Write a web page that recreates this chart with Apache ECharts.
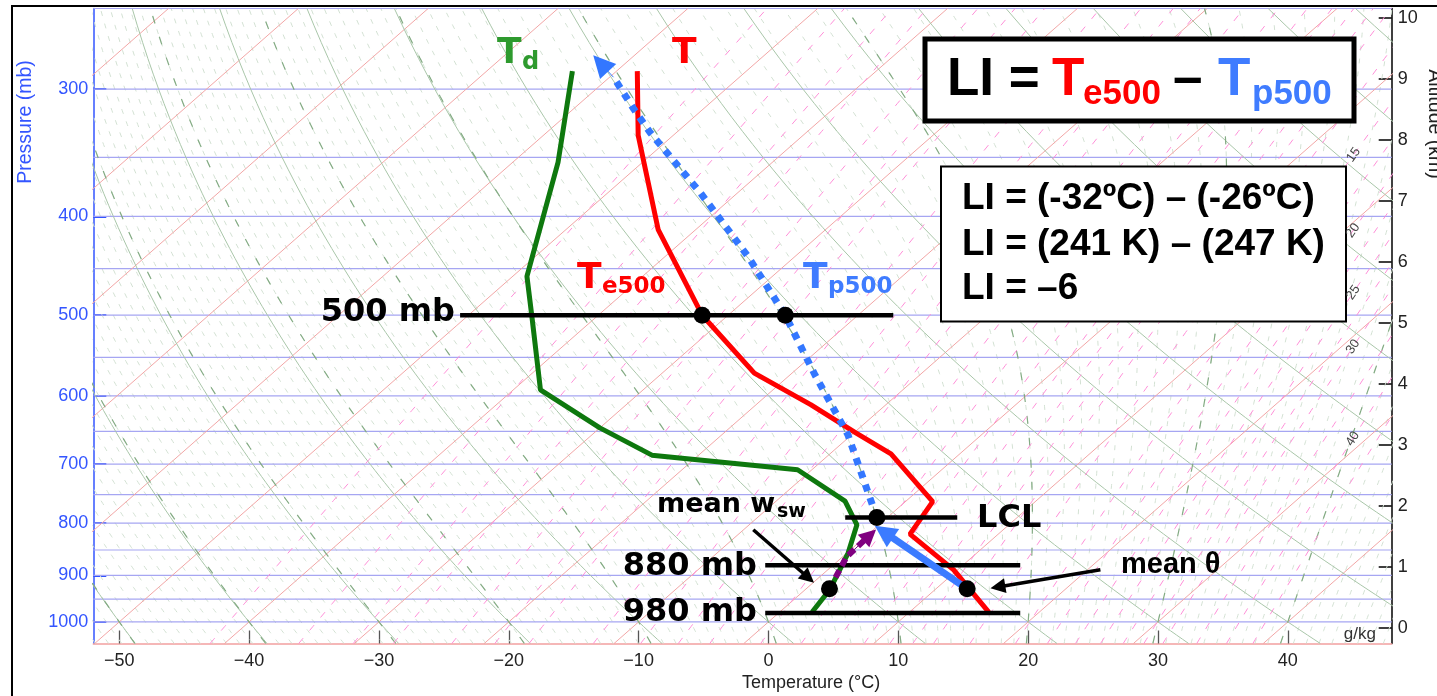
<!DOCTYPE html>
<html><head><meta charset="utf-8">
<script src="https://cdn.jsdelivr.net/npm/echarts@6/dist/echarts.min.js"></script>
<style>html,body{margin:0;padding:0;background:#fff;overflow:hidden}#c{width:1437px;height:696px}</style>
</head><body><div id="c"></div>
<script>
// ---------- axis ticks ----------
const tempTicks = [-50,-40,-30,-20,-10,0,10,20,30,40];
const pressureTicks = [1000,900,800,700,600,500,400,300];
const altitudeTicks = [0,1,2,3,4,5,6,7,8,9,10];
// ---------- thermodynamic diagram background ----------
const isobarLevels = [250,300,350,400,450,500,550,600,650,700,750,800,850,900,950,1000];
const isothermValues = [-100,-90,-80,-70,-60,-50,-40,-30,-20,-10,0,10,20,30,40];
const dryAdiabatTheta = [-80,-70,-60,-50,-40,-30,-20,-10,0,10,20,30,40,50,60,70,80,90,100,110,120,130];
const moistMajorTheta = [-50,-40,-30,-20,-10,0,10,20,30,40];
const moistMinorRange = [-60, 50];
const mixingRatios = [0.1,0.2,0.3,0.4,0.6,0.8,1,1.5,2,2.5,3,4,5,6,7,8,9,10,12,15,17.5,20,22.5,25,27.5,30,35,40,45];
const mixingRatioLabels = [15,20,25,30,40];
// ---------- sounding (T in °C, p in mb) ----------
const envTemp = [[-58.4,288],[-52.7,333],[-42.9,412],[-32,500],[-22.9,570],[-15.8,612],[-9.9,652],[-5.3,684],[2.1,762],[3.2,820],[9.7,889],[16.1,978]];
const envDew = [[-63.4,288],[-56.5,354],[-48.9,458],[-44.7,505],[-37.9,592],[-30.0,645],[-23.6,686],[-11.1,709],[-4.7,761],[-1.7,803],[0.1,856],[1.9,930],[2.5,978]];
const parcelPath = [[-0.8,790],[-10.3,655],[-18.1,572],[-25.6,500],[-33.6,438],[-42.9,379],[-52.0,331],[-55.3,314],[-59.7,292]];
const parcelArrow = [[-59.7,292],[-61.9,283]];
const meanThetaArrow = [[12.4,928],[1.0,816]];
const meanWPath = [[1.8,928],[0.3,863],[0.2,822]];
const meanWArrowHead = [[0.3,863],[0.2,822]];
const keyPoints = [[-32,500],[-25.6,500],[-0.8,790],[1.8,928],[12.4,928]];
const pointerW = [[-9.25,812],[-0.8,905]];
const pointerTheta = [[21.0,889],[14.6,924]];
// level lines: [pressure, left x-axis value, right x-axis value]
const levelLines = [[500,-23.75,9.61],[790,5.91,14.54],[880,-0.25,19.39],[980,-0.25,19.39]];

// ---------- skew-T transform ----------
const SKEW = 38.8, P_BOT = 1050, P_TOP = 250;
const L = p => Math.log(1000/p);
const xy = (T,p) => [T + SKEW*L(p), L(p)];
const GAP = ['-','-'];
function join(paths){const out=[];paths.forEach((pt,i)=>{if(i)out.push(GAP);pt.forEach(q=>out.push(q));});return out;}
function pRange(step){const a=[];for(let p=P_BOT;p>=P_TOP;p-=step)a.push(p);return a;}

const isobars = join(isobarLevels.map(p=>[[-52,L(p)],[48,L(p)]]));
const isotherms = join(isothermValues.map(T=>[xy(T,P_BOT),xy(T,P_TOP)]));
const dryLines = join(dryAdiabatTheta.map(th=>pRange(10).map(p=>xy((th+273.15)*Math.pow(p/1000,0.2857)-273.15,p))));
function dTdp(T,p){const Tc=T-273.15;const es=6.112*Math.exp(17.67*Tc/(Tc+243.5));const rs=0.622*es/(p-es);
  return (287.04*T+2.501e6*rs)/(p*(1005.7+2.501e6*2.501e6*rs*0.622/(287.04*T*T)));}
function moistPath(tc){
  const integ=(h,pend)=>{const r=[];let T=tc+273.15,p=1000;while((h<0&&p>pend)||(h>0&&p<pend)){
    const k1=dTdp(T,p),k2=dTdp(T+h/2*k1,p+h/2),k3=dTdp(T+h/2*k2,p+h/2),k4=dTdp(T+h*k3,p+h);
    T+=h/6*(k1+2*k2+2*k3+k4);p+=h;r.push([T,p]);}return r;};
  const up=integ(-5,P_TOP), down=integ(5,P_BOT).reverse();
  return down.concat([[tc+273.15,1000]],up).map(q=>xy(q[0]-273.15,q[1]));
}
const moistMajor = join(moistMajorTheta.map(moistPath));
const minorList=[];for(let t=moistMinorRange[0];t<=moistMinorRange[1];t++)minorList.push(t);
const moistMinor = join(minorList.map(moistPath));
function mixT(w,p){const e=w*p/(622+w);const l=Math.log(e/6.112);return 243.5*l/(17.67-l);}
const mixLines = join(mixingRatios.map(w=>pRange(10).map(p=>xy(mixT(w,p),p))));

const bg = (data,color,width,type,z)=>({type:'line',data,symbol:'none',silent:true,animation:false,z,
  lineStyle:{color,width,type:type||'solid'},connectNulls:false});
const FONT='Liberation Sans';
const chart = echarts.init(document.getElementById('c'));
const option = {
  animation:false,
  grid:{left:93.3,right:45.3,top:8.5,bottom:52.5,containLabel:false,outerBoundsMode:'none'},
  xAxis:{type:'value',min:-52,max:48,
    axisLine:{show:true,onZero:false,lineStyle:{color:'#f2a0a0',width:1.5}},
    axisTick:{show:true,inside:true,length:13,customValues:tempTicks,lineStyle:{color:'#555',width:1.3}},
    axisLabel:{customValues:tempTicks,formatter:v=>(v<0?'\u2212':'')+Math.abs(v),fontSize:18,color:'#222',margin:9,fontFamily:FONT},
    splitLine:{show:false}},
  yAxis:[
    {type:'value',min:L(P_BOT),max:L(P_TOP),position:'left',
     axisLine:{show:true,onZero:false,lineStyle:{color:'#3355ff',width:1.5}},
     axisTick:{show:true,inside:true,length:13,customValues:pressureTicks.map(L),lineStyle:{color:'#3355ff',width:2}},
     axisLabel:{customValues:pressureTicks.map(L),formatter:v=>String(Math.round(1000*Math.exp(-v))),fontSize:18,color:'#3355ff',margin:5,fontFamily:FONT},
     splitLine:{show:false}},
    {type:'value',min:-0.259,max:10.151,position:'right',
     axisLine:{show:true,onZero:false,lineStyle:{color:'#000',width:1.5}},
     axisTick:{show:true,inside:true,length:13,customValues:altitudeTicks,lineStyle:{color:'#000',width:1.5}},
     axisLabel:{customValues:altitudeTicks,fontSize:18,color:'#222',margin:6,fontFamily:FONT},
     splitLine:{show:false}}
  ],
  series:[
    bg(moistMinor,'#d3e1d3',1,[5,8],1),
    bg(isobars,'#a6a6f2',1.2,'solid',1),
    bg(isotherms,'#f2a6a6',1,'solid',1),
    bg(dryLines,'#a9c6a9',1,'solid',1),
    bg(moistMajor,'#83ab83',1.2,[8,14],1),
    bg(mixLines,'#ff8fd8',1,[7,10],1),
    {type:'line',data:join(levelLines.map(r=>[[r[1],L(r[0])],[r[2],L(r[0])]])),symbol:'none',z:6,lineStyle:{color:'#000',width:4.5},connectNulls:false},
    {type:'line',data:envDew.map(d=>xy(d[0],d[1])),symbol:'none',z:5,lineStyle:{color:'#0e780e',width:5}},
    {type:'line',data:envTemp.map(d=>xy(d[0],d[1])),symbol:'none',z:5,lineStyle:{color:'#ff0000',width:5}},
    {type:'line',data:parcelPath.map(d=>xy(d[0],d[1])),symbol:'none',z:5,lineStyle:{color:'#3377ff',width:7,type:[7,7],cap:'butt'}},
    {type:'line',data:meanWPath.map(d=>xy(d[0],d[1])),symbol:'none',z:7,lineStyle:{color:'#800080',width:6,type:[8,5]}},
    {type:'lines',coordinateSystem:'cartesian2d',z:7,symbol:['none','triangle'],symbolSize:22,
     lineStyle:{color:'#3377ff',width:1,opacity:1},data:[{coords:parcelArrow.map(d=>xy(d[0],d[1]))}]},
    {type:'lines',coordinateSystem:'cartesian2d',z:7,symbol:['none','triangle'],symbolSize:22,
     lineStyle:{color:'#3b7bff',width:7,opacity:1},data:[{coords:meanThetaArrow.map(d=>xy(d[0],d[1]))}]},
    {type:'lines',coordinateSystem:'cartesian2d',z:8,symbol:['none','triangle'],symbolSize:17,
     lineStyle:{color:'#800080',width:1,opacity:1},data:[{coords:meanWArrowHead.map(d=>xy(d[0],d[1]))}]},
    {type:'lines',coordinateSystem:'cartesian2d',z:8,symbol:['none','triangle'],symbolSize:15,
     lineStyle:{color:'#000',width:3.5,opacity:1},data:[{coords:pointerW.map(d=>xy(d[0],d[1]))},{coords:pointerTheta.map(d=>xy(d[0],d[1]))}]},
    {type:'scatter',data:keyPoints.map(d=>xy(d[0],d[1])),symbol:'circle',symbolSize:17,z:10,itemStyle:{color:'#000',opacity:1}}
  ]
};
chart.setOption(option);

// ---------- text / boxes ----------
const txt=(x,y,text,o)=>({type:'text',x,y,z:100,rotation:o.rot||0,style:Object.assign({text,fill:o.c||'#000',fontSize:o.s,fontWeight:o.w||'normal',fontFamily:o.f||FONT,
  align:o.a||'left',textAlign:o.a||'left',verticalAlign:'middle',textVerticalAlign:'middle'})});
const CF='DejaVu Sans';
const g=[
  {type:'rect',z:99,shape:{x:12,y:6,width:1460,height:720},style:{fill:'none',stroke:'#000',lineWidth:2}},
  txt(742,683,'Temperature (°C)',{s:18,c:'#222'}),
  txt(26,122,'Pressure (mb)',{s:19.5,c:'#3355ff',a:'center',rot:Math.PI/2}),
  txt(1434,124,'Altitude (km)',{s:19.5,c:'#222',a:'center',rot:-Math.PI/2}),
  txt(1376,634,'g/kg',{s:17,c:'#333',a:'right'}),
  txt(497,53.7,'T',{s:36,w:'bold',f:CF,c:'#2e9a2e'}),
  txt(522,62.5,'d',{s:24,w:'bold',f:CF,c:'#2e9a2e'}),
  txt(672,53.7,'T',{s:36,w:'bold',f:CF,c:'#ff0000'}),
  txt(577,278.3,'T',{s:36,w:'bold',f:CF,c:'#ff0000'}),
  txt(602,286.7,'e500',{s:23,w:'bold',f:CF,c:'#ff0000'}),
  txt(803,278.3,'T',{s:36,w:'bold',f:CF,c:'#3f7cff'}),
  txt(828,286.7,'p500',{s:23,w:'bold',f:CF,c:'#3f7cff'}),
  txt(455,313,'500 mb',{s:32,w:'bold',f:CF,a:'right'}),
  txt(757,567,'880 mb',{s:32,w:'bold',f:CF,a:'right'}),
  txt(757,613,'980 mb',{s:32,w:'bold',f:CF,a:'right'}),
  txt(977,519,'LCL',{s:32,w:'bold',f:CF}),
  txt(657,505,'mean w',{s:27,w:'bold',f:CF}),
  txt(777,512,'sw',{s:19,w:'bold',f:CF}),
  txt(1121,565,'mean θ',{s:29,w:'bold'}),
  {type:'rect',z:99,shape:{x:925,y:39,width:429,height:82},style:{fill:'#fff',stroke:'#000',lineWidth:5}},
  txt(947,80.8,'LI =',{s:53,w:'bold'}),
  txt(1052,80.8,'T',{s:53,w:'bold',c:'#ff0000'}),
  txt(1083,94.3,'e500',{s:35,w:'bold',c:'#ff0000'}),
  txt(1173,80.8,'–',{s:53,w:'bold'}),
  txt(1218,80.8,'T',{s:53,w:'bold',c:'#3f7cff'}),
  txt(1252,94.3,'p500',{s:35,w:'bold',c:'#3f7cff'}),
  {type:'rect',z:99,shape:{x:941,y:166.5,width:405,height:155},style:{fill:'#fff',stroke:'#000',lineWidth:2}},
  txt(962,198.7,'LI = (-32ºC) – (-26ºC)',{s:37,w:'bold'}),
  txt(962,244.8,'LI = (241 K) – (247 K)',{s:37,w:'bold'}),
  txt(962,289.2,'LI = –6',{s:37,w:'bold'})
];
// mixing-ratio labels placed on their lines near the right edge
mixingRatioLabels.forEach(w=>{
  let best=null;
  for(let p=P_BOT;p>=P_TOP;p-=1){const q=xy(mixT(w,p),p);if(q[0]>=45){best=p;break;}}
  if(best===null)return;
  const a=chart.convertToPixel({xAxisIndex:0,yAxisIndex:0},xy(mixT(w,best),best));
  const b=chart.convertToPixel({xAxisIndex:0,yAxisIndex:0},xy(mixT(w,best-10),best-10));
  const ang=Math.atan2(a[1]-b[1],b[0]-a[0]);
  g.push(txt(a[0],a[1],String(w),{s:13,c:'#444',a:'center',rot:ang}));
});
chart.setOption({graphic:{elements:g}});
</script></body></html>
